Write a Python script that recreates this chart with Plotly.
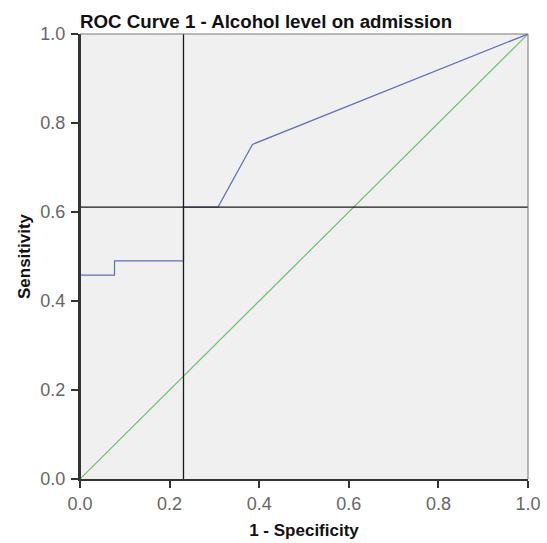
import plotly.graph_objects as go

# ROC curve points (1 - specificity, sensitivity)
fpr = [0.0, 0.0, 0.077, 0.077, 0.231, 0.231, 0.308, 0.385, 1.0]
tpr = [0.0, 0.458, 0.458, 0.49, 0.49, 0.611, 0.611, 0.752, 1.0]
# reference diagonal
diag_x = [0.0, 1.0]
diag_y = [0.0, 1.0]
# cut-off reference lines
cut_x = 0.231
cut_y = 0.611

tick_vals = [0.0, 0.2, 0.4, 0.6, 0.8, 1.0]
tick_text = ["0.0", "0.2", "0.4", "0.6", "0.8", "1.0"]

fig = go.Figure()
fig.add_trace(go.Scatter(x=diag_x, y=diag_y, mode="lines",
                         line=dict(color="#6cc36a", width=1.2), showlegend=False,
                         hoverinfo="skip"))
fig.add_trace(go.Scatter(x=fpr, y=tpr, mode="lines",
                         line=dict(color="#5f6fb5", width=1.2), showlegend=False,
                         hoverinfo="skip"))
fig.add_trace(go.Scatter(x=[cut_x, cut_x], y=[0, 1], mode="lines",
                         line=dict(color="#1a1a1a", width=1.3), showlegend=False,
                         hoverinfo="skip"))
fig.add_trace(go.Scatter(x=[0, 1], y=[cut_y, cut_y], mode="lines",
                         line=dict(color="#1a1a1a", width=1.3), showlegend=False,
                         hoverinfo="skip"))

fig.update_layout(
    width=547, height=543,
    margin=dict(l=80, r=19, t=34, b=64),
    paper_bgcolor="white",
    plot_bgcolor="#f0f0f0",
    font=dict(family="Liberation Sans, Arial, sans-serif"),
    title=dict(text="<b>ROC Curve 1 - Alcohol level on admission</b>",
               x=80 / 547, xanchor="left", y=1 - 21 / 543, yanchor="middle",
               font=dict(size=18.7, color="#111")),
)
fig.update_xaxes(range=[0, 1], tickvals=tick_vals, ticktext=tick_text,
                 showgrid=False, zeroline=False, showline=True, automargin=False,
                 linecolor="#333", linewidth=2, mirror=False,
                 ticks="outside", ticklen=7, tickwidth=1.5, tickcolor="#333",
                 ticklabelstandoff=0,
                 tickfont=dict(size=18, color="#666"),
                 title=dict(text="<b>1 - Specificity</b>", font=dict(size=17, color="#111"),
                            standoff=12))
fig.update_yaxes(range=[0, 1], tickvals=tick_vals, ticktext=tick_text,
                 showgrid=False, zeroline=False, showline=True, automargin=False,
                 linecolor="#333", linewidth=2,
                 ticks="outside", ticklen=7, tickwidth=1.5, tickcolor="#333",
                 ticklabelstandoff=2,
                 tickfont=dict(size=18, color="#666"),
                 title=dict(text="<b>Sensitivity</b>", font=dict(size=17, color="#111"),
                            standoff=5))
# left axis drawn over traces, top and right frame
fig.add_shape(type="line", xref="paper", yref="paper", x0=0, x1=0, y0=0, y1=1,
              line=dict(color="#333", width=2), layer="above")
fig.add_shape(type="line", xref="paper", yref="paper", x0=0, x1=1, y0=1, y1=1,
              line=dict(color="#777", width=1))
fig.add_shape(type="line", xref="paper", yref="paper", x0=1, x1=1, y0=0, y1=1,
              line=dict(color="#777", width=1))

fig.write_html("out.html", config={"displayModeBar": False},
               post_script="document.body.style.margin='0px';")
